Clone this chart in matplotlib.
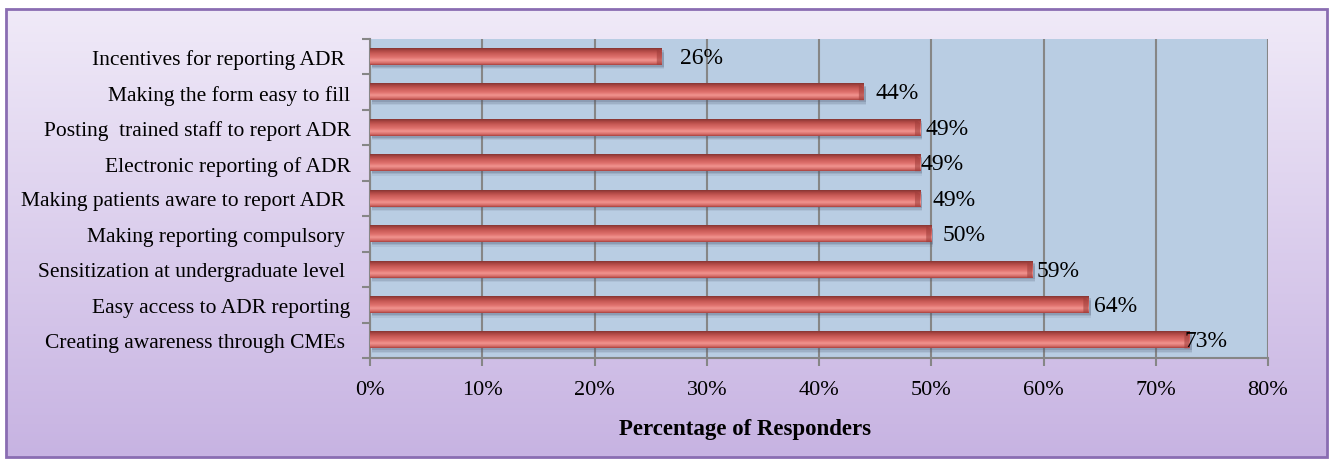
import matplotlib
matplotlib.use("Agg")
import matplotlib.pyplot as plt
import numpy as np
from matplotlib.colors import LinearSegmentedColormap
from matplotlib.patches import Polygon, Rectangle
from matplotlib.ticker import FixedLocator, PercentFormatter

plt.rcParams["font.family"] = ["Liberation Serif", "DejaVu Serif"]

# data, top to bottom as in the chart
categories = [
    "Incentives for reporting ADR ",
    "Making the form easy to fill",
    "Posting  trained staff to report ADR",
    "Electronic reporting of ADR",
    "Making patients aware to report ADR ",
    "Making reporting compulsory ",
    "Sensitization at undergraduate level ",
    "Easy access to ADR reporting",
    "Creating awareness through CMEs ",
]
values = [26, 44, 49, 49, 49, 50, 59, 64, 73]
value_labels = ["26%", "44%", "49%", "49%", "49%", "50%", "59%", "64%", "73%"]
# small nudges of the data labels, as placed in the original
label_nudge = [1.6, 1.0, 0.5, 0.0, 1.15, 1.0, 0.35, 0.5, -0.4]

W, H = 1332, 460
fig = plt.figure(figsize=(W / 100, H / 100), dpi=100)

# background panel with lavender gradient and purple border
bg = fig.add_axes([0, 0, 1, 1], zorder=0)
bg.set_xlim(0, W)
bg.set_ylim(H, 0)
bg.axis("off")
bg_cmap = LinearSegmentedColormap.from_list("bg", ["#F0EAF8", "#C7B3E2"])
grad = np.linspace(0, 1, 256).reshape(-1, 1)
bg.imshow(grad, cmap=bg_cmap, extent=[6, 1327, 458, 10], aspect="auto")
bg.add_patch(Rectangle((6, 10), 1321, 448, fill=False, ec="#8A6DB2", lw=2))

ax = fig.add_axes([370 / W, 1 - 359 / H, (1268 - 370) / W, (359 - 40) / H], zorder=1)
ax.set_facecolor("#B9CDE3")

n = len(categories)
ypos = np.arange(n)[::-1]
bar_h = 0.46

bar_cmap = LinearSegmentedColormap.from_list(
    "bar",
    [(0.0, "#A8403D"), (0.1, "#D46A66"), (0.28, "#F29590"), (0.45, "#E0736F"),
     (0.7, "#C85955"), (0.88, "#A84441"), (1.0, "#853533")],
)
shade = np.linspace(0, 1, 64).reshape(-1, 1)

for y, v, lab, dx in zip(ypos, values, value_labels, label_nudge):
    top, bot = y + bar_h / 2, y - bar_h / 2
    # soft shadow below the bar
    for k, a in [(0.13, 0.10), (0.09, 0.16), (0.05, 0.22)]:
        ax.add_patch(Rectangle((0.15, bot - k), v + 0.05, bar_h,
                               fc="#4E5872", alpha=a, lw=0, zorder=2))
    ax.imshow(shade, cmap=bar_cmap, extent=[0, v, top, bot],
              aspect="auto", zorder=3, interpolation="bilinear")
    # bevelled end cap
    ax.add_patch(Polygon([(v - 0.45, top), (v, top - 0.1), (v, bot), (v - 0.45, bot)],
                         closed=True, fc="#9E3C39", alpha=0.55, lw=0, zorder=4))
    ax.text(v + dx, y - 0.02, lab, va="center", ha="left", fontsize=17, zorder=5)

ax.set_xlim(0, 80)
ax.set_ylim(-0.5, n - 0.5)

ax.xaxis.set_major_locator(FixedLocator(np.arange(0, 81, 10)))
ax.xaxis.set_major_formatter(PercentFormatter(decimals=0))
ax.grid(axis="x", color="#868686", lw=1.5, zorder=1)
ax.set_axisbelow(True)

ax.set_yticks(ypos)
ax.set_yticklabels(categories, fontsize=15.5)
ax.set_yticks(np.arange(-0.5, n, 1), minor=True)
ax.tick_params(axis="y", which="major", length=0, pad=14)
ax.tick_params(axis="y", which="minor", length=6, color="#868686", width=1.5)
ax.tick_params(axis="x", length=6, color="#868686", width=1.5, labelsize=16, pad=10)

for s in ["top", "right"]:
    ax.spines[s].set_visible(False)
for s in ["left", "bottom"]:
    ax.spines[s].set_color("#868686")
    ax.spines[s].set_linewidth(1.5)

fig.text(745 / W, 1 - 430 / H, "Percentage of Responders", ha="center", va="center",
         fontsize=16.5, fontweight="bold")

fig.savefig("out.png", dpi=100)
